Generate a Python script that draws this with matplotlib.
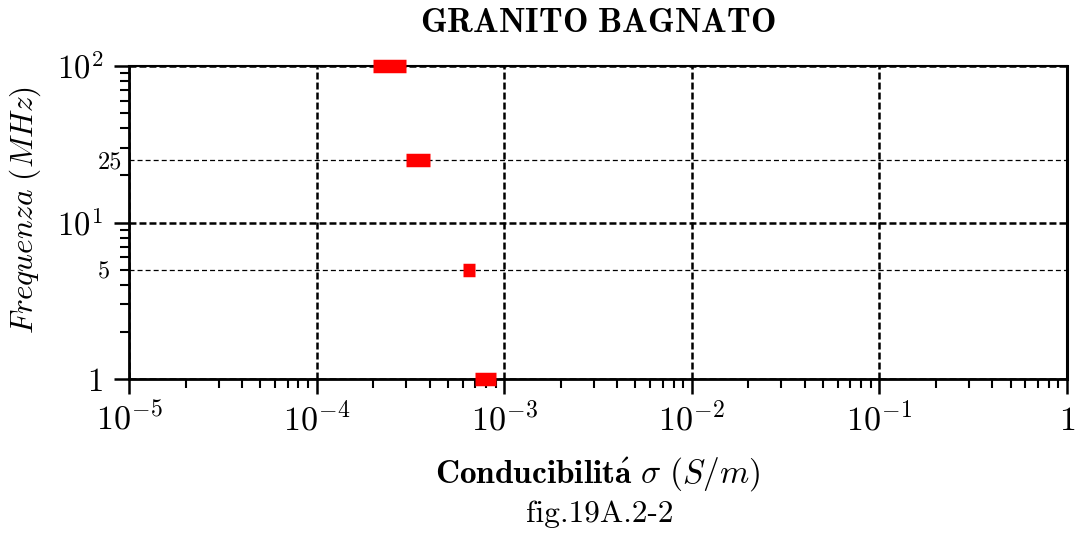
import numpy as np
import matplotlib
matplotlib.use("Agg")
import matplotlib.pyplot as plt
from matplotlib.ticker import FixedLocator, FixedFormatter, LogLocator, NullFormatter
from matplotlib.transforms import blended_transform_factory

plt.rcParams['mathtext.fontset'] = 'cm'
plt.rcParams['font.family'] = 'serif'
plt.rcParams['font.serif'] = ['cmr10']
plt.rcParams['axes.unicode_minus'] = False
plt.rcParams['lines.scale_dashes'] = False

# granito bagnato: intervallo di conducibilita' (min, max) per ogni frequenza
freq = [100, 25, 5, 1]                    # MHz
sigma_min = [2e-4, 3e-4, 6e-4, 7e-4]      # S/m
sigma_max = [3e-4, 4e-4, 7e-4, 9e-4]      # S/m

x_ticks = [1e-5, 1e-4, 1e-3, 1e-2, 1e-1, 1]
x_labels = [r'$10^{-5}$', r'$10^{-4}$', r'$10^{-3}$', r'$10^{-2}$', r'$10^{-1}$', r'$1$']
y_ticks = [1, 10, 100]
y_labels = [r'$1$', r'$10^{1}$', r'$10^{2}$']
y_extra = [25, 5]

fig = plt.figure(figsize=(10.78, 5.33), dpi=100)
ax = fig.add_axes([0.1197, 0.2889, 0.8701, 0.5872])
ax.set_xscale('log')
ax.set_yscale('log')
ax.set_xlim(1e-5, 1)
ax.set_ylim(1, 100)

for f, s0, s1 in zip(freq, sigma_min, sigma_max):
    ax.plot([s0, s1], [f, f], color='#ff0000', lw=9.7,
            solid_capstyle='butt', clip_on=False, zorder=5)

# griglia
ax.grid(True, which='major', color='k', lw=1.8, ls=(0, (5.0, 2.2)))
for f in y_extra:
    ax.axhline(f, color='k', lw=0.9, ls=(0, (3.6, 2.2)), zorder=1.5)

# assi
ax.xaxis.set_major_locator(FixedLocator(x_ticks))
ax.xaxis.set_major_formatter(FixedFormatter(x_labels))
ax.xaxis.set_minor_locator(LogLocator(base=10, subs=np.arange(2, 10), numticks=50))
ax.xaxis.set_minor_formatter(NullFormatter())
ax.yaxis.set_major_locator(FixedLocator(y_ticks))
ax.yaxis.set_major_formatter(FixedFormatter(y_labels))
ax.yaxis.set_minor_locator(LogLocator(base=10, subs=np.arange(2, 10), numticks=50))
ax.yaxis.set_minor_formatter(NullFormatter())

ax.tick_params(axis='x', which='major', direction='out', length=10.8, width=1.8,
               pad=25.9, labelsize=24.5, top=False)
ax.tick_params(axis='x', which='minor', direction='out', length=6.2, width=1.5, top=False)
ax.tick_params(axis='y', which='major', direction='out', length=11, width=1.8,
               pad=7.6, labelsize=23.5, right=False)
ax.tick_params(axis='y', which='minor', direction='out', length=6.2, width=1.5, right=False)
for t in ax.xaxis.get_major_ticks():
    t.label1.set_verticalalignment('baseline')

for side, w in [('left', 2.0), ('bottom', 2.0), ('right', 2.2), ('top', 1.5)]:
    ax.spines[side].set_linewidth(w)

trans = blended_transform_factory(ax.transAxes, ax.transData)
for f in y_extra:
    ax.text(-0.033, f, str(f), transform=trans, ha='left', va='center_baseline',
            fontsize=17.5)

ax.set_xlabel(r'$\mathbf{Conducibilit\acute{a}}\ \sigma\ (S/m)$', fontsize=24)
ax.xaxis.label.set_verticalalignment('baseline')
ax.xaxis.set_label_coords(0.5, -0.3323)
ax.set_ylabel(r'$Frequenza\ (MHz)$', fontsize=22.5)
ax.yaxis.set_label_coords(-0.0917, 0.54)

fig.text(0.5547, 1 - 32.3 / 533, r'$\mathbf{GRANITO\ BAGNATO}$',
         ha='center', va='baseline', fontsize=24.5)
fig.text(0.5566, 11.5 / 533, 'fig.19A.2-2', ha='center', va='baseline', fontsize=22.5)

fig.savefig('out.png', dpi=100)
